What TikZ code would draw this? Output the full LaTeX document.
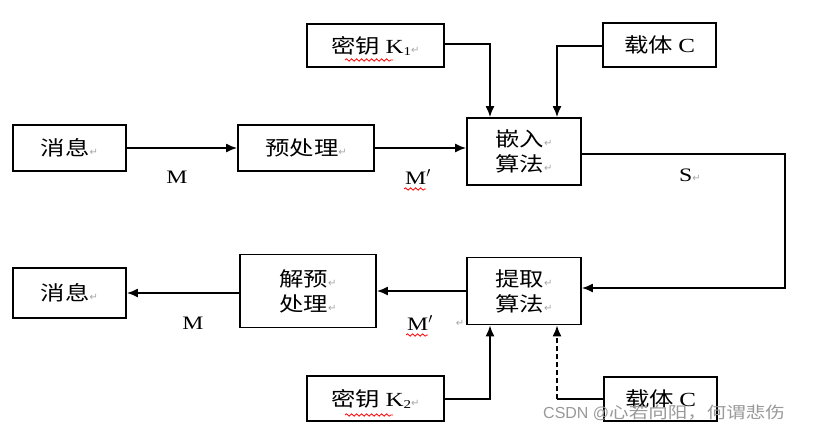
\documentclass[tikz,border=0pt]{standalone}
\usepackage{fontspec}
\setmainfont{Liberation Serif}
\newfontfamily\cjk[FakeStretch=1.22]{Noto Sans CJK SC}
\newfontfamily\lat[FakeStretch=1.25]{Liberation Serif}
\newfontfamily\mk{DejaVu Sans}
\newfontfamily\wm{Liberation Sans}
\usetikzlibrary{arrows.meta,decorations.pathmorphing}
\newcommand{\parmk}{{\mk\fontsize{10pt}{10pt}\selectfont\color{gray!70}↵}}
\begin{document}
\begin{tikzpicture}[x=1pt,y=-1pt,
  box/.style={draw, line width=1.8pt, inner sep=0pt, align=center,
    font=\cjk\fontsize{20pt}{25pt}\selectfont},
  conn/.style={line width=1.6pt},
  arr/.style={conn, -{Latex[length=11pt,width=9pt]}},
  lbl/.style={font=\lat\fontsize{19pt}{20pt}\selectfont, inner sep=0pt},
  squig/.style={red, line width=0.8pt, decorate,
    decoration={snake, amplitude=1.2pt, segment length=5pt}}]
\useasboundingbox (0,0) rectangle (813,434);

\node[box, minimum width=137pt, minimum height=43pt] (k1) at (375.5,45.5) {密钥 {\lat K\raisebox{-2pt}{\fontsize{12pt}{12pt}\selectfont 1}}\parmk};
\node[box, minimum width=113pt, minimum height=44pt] (c1) at (659.5,45) {载体 {\lat C}};
\node[box, minimum width=113pt, minimum height=46pt] (m1) at (69.5,148) {消息\parmk};
\node[box, minimum width=136pt, minimum height=46pt] (pre) at (306,148) {预处理\parmk};
\node[box, minimum width=114pt, minimum height=67pt] (emb) at (524,151.5) {嵌入\parmk\\算法\parmk};
\node[box, minimum width=114pt, minimum height=67pt] (ext) at (524,291) {提取\parmk\\算法\parmk};
\node[box, minimum width=136pt, minimum height=73pt] (dep) at (308,291) {解预\parmk\\处理\parmk};
\node[box, minimum width=113pt, minimum height=50pt] (m2) at (69.5,293) {消息\parmk};
\node[box, minimum width=137pt, minimum height=45pt] (k2) at (375.5,398.5) {密钥 {\lat K\raisebox{-2pt}{\fontsize{12pt}{12pt}\selectfont 2}}\parmk};
\node[box, minimum width=113pt, minimum height=44pt] (c2) at (660.5,399) {载体 {\lat C}};

% labels
\node[lbl] (lm1) at (177,177) {M};
\node[lbl] (lmp1) at (418,177) {M$'$};
\node[lbl] (ls) at (690,175) {S\parmk};
\node[lbl] (lm2) at (193,323) {M};
\node[lbl] (lmp2) at (420,323) {M$'$};
\node[inner sep=0pt] (pm2) at (460,323) {\parmk};

% spellcheck squiggles
\draw[squig] (345,60) -- (393,60);
\draw[squig] (404,189) -- (426,189);
\draw[squig] (345,415) -- (393,415);
\draw[squig] (406,335) -- (428,335);

% connectors
\coordinate (a1) at (490,44);
\coordinate (a2) at (557,46);
\coordinate (s1) at (785,154);
\coordinate (s2) at (785,288);
\coordinate (b1) at (490,399);
\coordinate (b2) at (557,399);

\draw[arr] (m1.east) -- (pre.west);
\draw[arr] (pre.east) -- (pre.east -| emb.west);
\draw[arr] (k1.east |- a1) -- (a1) -- (a1 |- emb.north);
\draw[arr] (c1.west |- a2) -- (a2) -- (a2 |- emb.north);
\draw[arr] (emb.east |- s1) -- (s1) -- (s2) -- (s2 -| ext.east);
\draw[arr] (ext.west) -- (dep.east);
\draw[arr] (dep.west |- m2.east) -- (m2.east);
\draw[arr] (k2.east |- b1) -- (b1) -- (b1 |- ext.south);
\draw[conn] (c2.west |- b2) -- (b2);
\draw[arr, dash pattern=on 5pt off 3pt] (b2) -- (b2 |- ext.south);

% watermark
\node[font=\wm\fontsize{16pt}{16pt}\selectfont, text=gray!80, inner sep=0pt, anchor=west] (wm) at (543,413) {CSDN @{\cjk 心若向阳，何谓悲伤}};
\end{tikzpicture}
\end{document}
